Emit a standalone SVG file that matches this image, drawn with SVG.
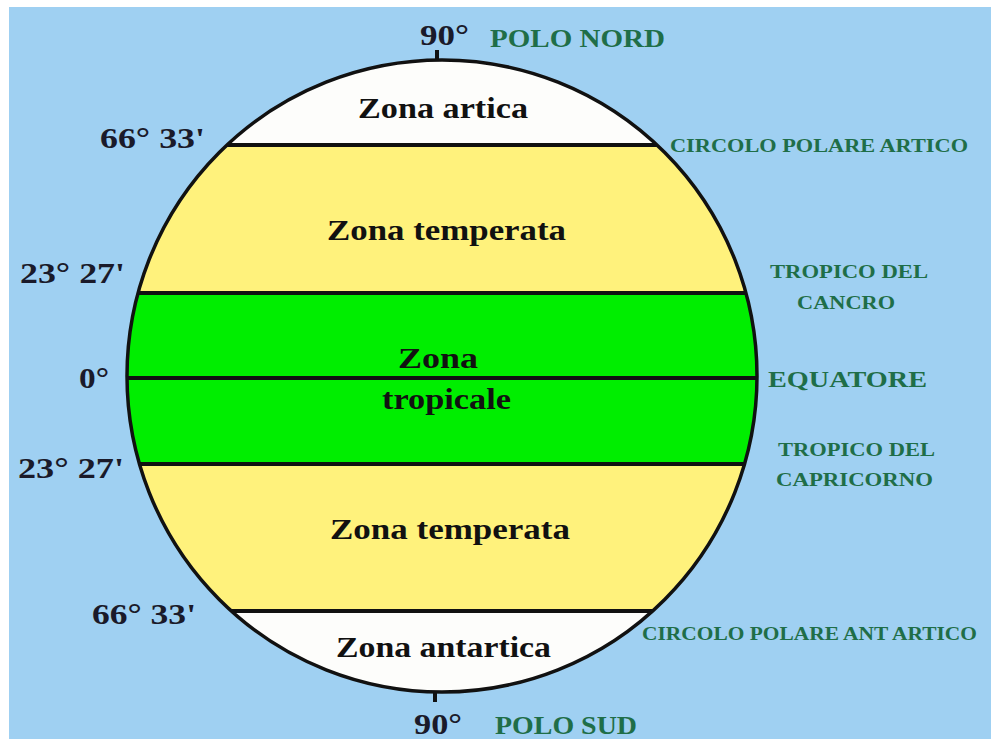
<svg xmlns="http://www.w3.org/2000/svg" width="991" height="739" viewBox="0 0 991 739">
<defs>
<clipPath id="globe"><ellipse cx="442" cy="376" rx="315" ry="316"/></clipPath>
<style>
.zone{font-family:"Liberation Serif",serif;font-weight:bold;font-size:30px;fill:#111;text-anchor:start}
.deg{font-family:"Liberation Serif",serif;font-weight:bold;font-size:29px;fill:#1a1a2a}
.lab{font-family:"Liberation Serif",serif;font-weight:bold;fill:#1f6e48}
.line{stroke:#111;stroke-width:4;fill:none}
</style>
</defs>
<rect width="991" height="739" fill="#ffffff"/>
<rect x="9" y="7" width="982" height="732" fill="#9fd0f2"/>
<g id="globe-body" clip-path="url(#globe)">
<rect x="100" y="40" width="700" height="680" fill="#fdfdfb"/>
<rect x="100" y="145" width="700" height="466" fill="#fff27c"/>
<rect x="100" y="293" width="700" height="171" fill="#00ee00"/>
</g>
<g id="connectors">
<line class="line" x1="100" y1="145" x2="800" y2="145" clip-path="url(#globe)"/>
<line class="line" x1="100" y1="293" x2="800" y2="293" clip-path="url(#globe)"/>
<line class="line" x1="100" y1="378" x2="800" y2="378" clip-path="url(#globe)"/>
<line class="line" x1="100" y1="464" x2="800" y2="464" clip-path="url(#globe)"/>
<line class="line" x1="100" y1="611" x2="800" y2="611" clip-path="url(#globe)"/>
<ellipse cx="442" cy="376" rx="315" ry="316" fill="none" stroke="#111" stroke-width="3.5"/>
<line x1="437" y1="50" x2="437" y2="61" stroke="#111" stroke-width="4"/>
<line x1="435" y1="691" x2="435" y2="702" stroke="#111" stroke-width="4"/>
</g>
<g id="zona-artica"><text class="zone" x="358" y="118" textLength="170" lengthAdjust="spacingAndGlyphs">Zona artica</text></g>
<g id="zona-temperata-nord"><text class="zone" x="327" y="240" textLength="239" lengthAdjust="spacingAndGlyphs">Zona temperata</text></g>
<g id="zona-tropicale">
<text class="zone" x="398" y="368" textLength="80" lengthAdjust="spacingAndGlyphs">Zona</text>
<text class="zone" x="382" y="409" textLength="129" lengthAdjust="spacingAndGlyphs">tropicale</text>
</g>
<g id="zona-temperata-sud"><text class="zone" x="330" y="539" textLength="240" lengthAdjust="spacingAndGlyphs">Zona temperata</text></g>
<g id="zona-antartica"><text class="zone" x="336" y="657" textLength="215" lengthAdjust="spacingAndGlyphs">Zona antartica</text></g>
<g id="gradi">
<text class="deg" x="420" y="45" textLength="49" lengthAdjust="spacingAndGlyphs">90°</text>
<text class="deg" x="100" y="148" textLength="105" lengthAdjust="spacingAndGlyphs">66° 33'</text>
<text class="deg" x="20" y="283" textLength="105" lengthAdjust="spacingAndGlyphs">23° 27'</text>
<text class="deg" x="79" y="388" textLength="30" lengthAdjust="spacingAndGlyphs">0°</text>
<text class="deg" x="18" y="478" textLength="106" lengthAdjust="spacingAndGlyphs">23° 27'</text>
<text class="deg" x="92" y="624" textLength="104" lengthAdjust="spacingAndGlyphs">66° 33'</text>
<text class="deg" x="414" y="734" textLength="48" lengthAdjust="spacingAndGlyphs">90°</text>
</g>
<g id="nomi">
<text class="lab" x="490" y="47" font-size="25" font-weight="normal" textLength="175" lengthAdjust="spacingAndGlyphs">POLO NORD</text>
<text class="lab" x="670" y="152" font-size="19" textLength="298" lengthAdjust="spacingAndGlyphs">CIRCOLO POLARE ARTICO</text>
<text class="lab" x="770" y="278" font-size="19" textLength="158" lengthAdjust="spacingAndGlyphs">TROPICO DEL</text>
<text class="lab" x="797" y="309" font-size="19" textLength="98" lengthAdjust="spacingAndGlyphs">CANCRO</text>
<text class="lab" x="768" y="387" font-size="23" font-weight="normal" textLength="159" lengthAdjust="spacingAndGlyphs">EQUATORE</text>
<text class="lab" x="778" y="456" font-size="19" textLength="157" lengthAdjust="spacingAndGlyphs">TROPICO DEL</text>
<text class="lab" x="776" y="486" font-size="19" textLength="157" lengthAdjust="spacingAndGlyphs">CAPRICORNO</text>
<text class="lab" x="642" y="640" font-size="19" textLength="335" lengthAdjust="spacingAndGlyphs">CIRCOLO POLARE ANT ARTICO</text>
<text class="lab" x="495" y="734" font-size="25" font-weight="normal" textLength="142" lengthAdjust="spacingAndGlyphs">POLO SUD</text>
</g>
</svg>
